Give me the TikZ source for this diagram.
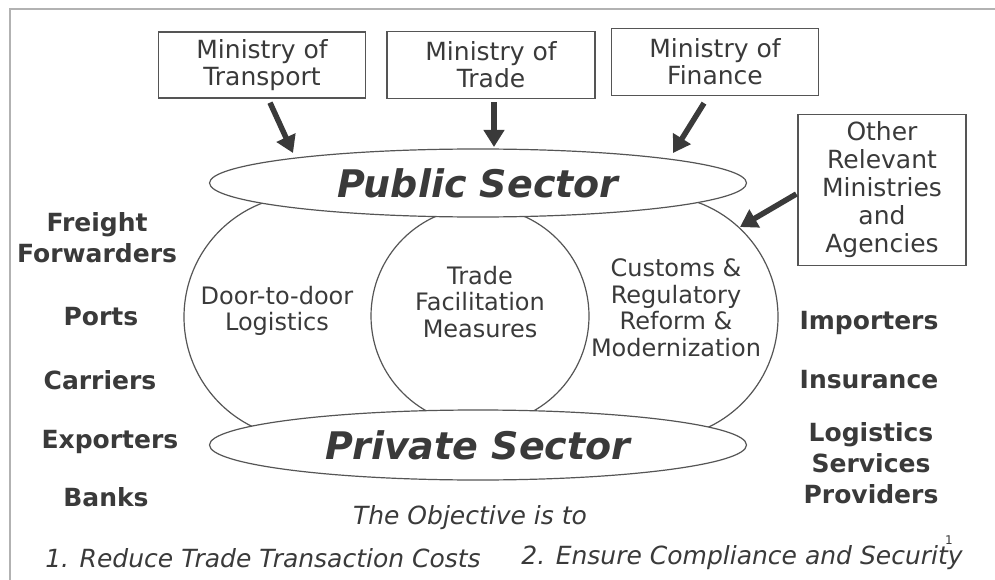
\documentclass[tikz,border=0pt]{standalone}
\usepackage{fontspec}
\setmainfont{DejaVu Sans}
\usetikzlibrary{arrows.meta,shapes.geometric}
\definecolor{txt}{HTML}{3A3A3A}
\definecolor{ln}{HTML}{555555}
\begin{document}
\begin{tikzpicture}[x=1pt,y=-1pt,
  box/.style={draw=ln, line width=1.3pt, align=center, text=txt, inner sep=0pt,
    font=\fontsize{25}{27}\selectfont},
  lab/.style={align=center, text=txt, inner sep=0pt, font=\fontsize{25}{31}\selectfont\bfseries},
  inr/.style={align=center, text=txt, inner sep=0pt, font=\fontsize{24}{26.5}\selectfont},
  ring/.style={circle, draw=ln, line width=1.2pt, inner sep=0pt},
  sect/.style={ellipse, draw=ln, line width=1.2pt, fill=white, minimum width=537pt,
    minimum height=68pt, inner sep=0pt, text=txt, font=\fontsize{38}{40}\selectfont\bfseries\itshape},
  arr/.style={draw=txt, line width=5.5pt, -{Triangle[length=17pt,width=20pt]}},
  obj/.style={text=txt, inner sep=0pt, font=\fontsize{25}{28}\selectfont\itshape}]
\useasboundingbox (0,0) rectangle (995,580);
\fill[white] (0,0) rectangle (995,580);
% frame
\draw[gray!60, line width=2.5pt] (10,585) -- (10,9) -- (1000,9);
% top boxes
\node[box, minimum width=207pt, minimum height=66pt] (tr) at (262,65) {Ministry of\\Transport};
\node[box, minimum width=208pt, minimum height=67pt] (td) at (491,65) {Ministry of\\Trade};
\node[box, minimum width=207pt, minimum height=67pt] (fi) at (715,62) {Ministry of\\Finance};
\node[box, minimum width=168pt, minimum height=151pt, font=\fontsize{25}{28}\selectfont] (ot) at (882,190)
  {Other\\Relevant\\Ministries\\and\\Agencies};
% rings (outer arcs only)
\begin{scope}
  \clip (0,150) rectangle (300,500);
  \node[ring, minimum size=244pt] (lc) at (306,317) {};
\end{scope}
\begin{scope}
  \clip (660,150) rectangle (995,500);
  \node[ring, minimum size=244pt] (rc) at (656,317) {};
\end{scope}
\node[ring, minimum size=218pt, fill=white] (mc) at (480,316) {};
% sectors
\node[sect] (pub) at (478,183) {Public Sector};
\node[sect, minimum height=70pt] (priv) at (478,445) {Private Sector};
% inner texts
\node[inr] (dd) at (277,311) {Door-to-door\\Logistics};
\node[inr] (tf) at (480,302) {Trade\\Facilitation\\Measures};
\node[inr] (cu) at (676,308) {Customs \&\\Regulatory\\Reform \&\\Modernization};
% left labels
\node[lab] (ff) at (97,238) {Freight\\Forwarders};
\node[lab] (po) at (101,317) {Ports};
\node[lab] (ca) at (100,380) {Carriers};
\node[lab] (ex) at (110,442) {Exporters};
\node[lab] (ba) at (106,497) {Banks};
% right labels
\node[lab] (im) at (869,323) {Importers};
\node[lab] (in) at (869,380) {Insurance};
\node[lab] (lo) at (871,463) {Logistics\\Services\\Providers};
% objective
\node[obj] (o0) at (470,518) {The Objective is to};
\node[obj] (o1) at (263,558) {1. Reduce Trade Transaction Costs};
\node[obj] (o2) at (742,558) {2. Ensure Compliance and Security};
\node[text=txt, inner sep=0pt, font=\fontsize{12}{12}\selectfont] (fn) at (949,540) {1};
% arrows
\coordinate (a1) at (293,153);
\coordinate (a2) at (494,147);
\coordinate (a3) at (673,153);
\coordinate (a4) at (740,227);
\draw[arr] ([xshift=8pt,yshift=-4pt]tr.south) -- (a1);
\draw[arr] ([xshift=3pt,yshift=-3pt]td.south) -- (a2);
\draw[arr] ([xshift=-11pt,yshift=-7pt]fi.south) -- (a3);
\draw[arr] ([xshift=-1pt,yshift=-4pt]ot.west) -- (a4);
\end{tikzpicture}
\end{document}
